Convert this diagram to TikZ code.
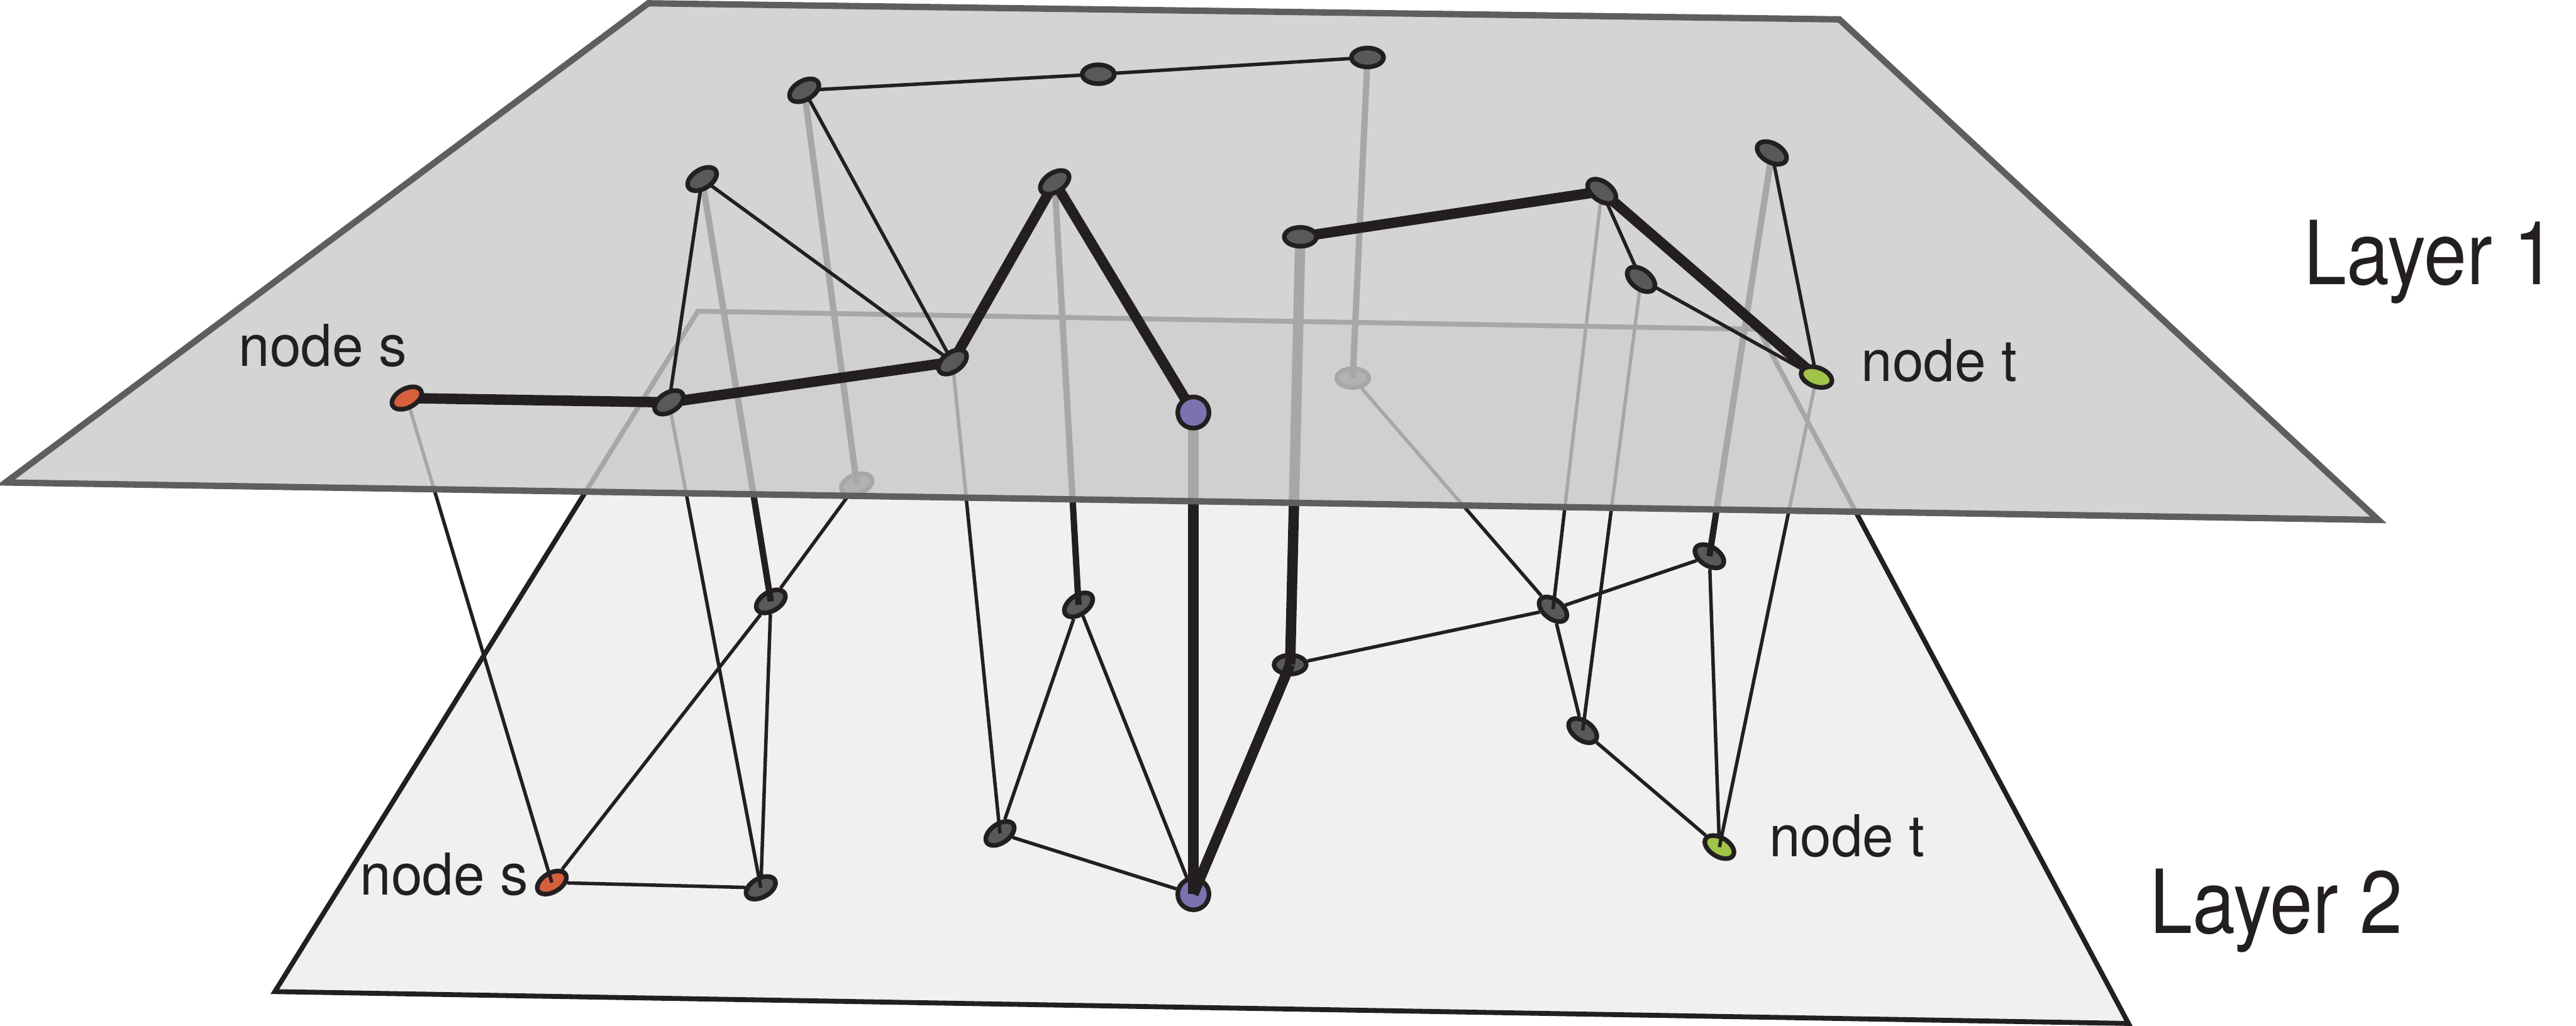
\documentclass[tikz,border=0pt]{standalone}
\usepackage{fontspec}
\setmainfont{TeX Gyre Heros}[FakeStretch=0.97]
\newfontfamily\layerfont{TeX Gyre Heros}[FakeStretch=0.87]
\usetikzlibrary{shapes.geometric}
\definecolor{lineBlack}{RGB}{35,31,32}
\definecolor{nodeGray}{RGB}{88,89,91}
\definecolor{sOrange}{RGB}{214,96,62}
\definecolor{tGreen}{RGB}{160,196,72}
\definecolor{midPurple}{RGB}{123,115,176}
\definecolor{topPlane}{RGB}{201,201,201}
\definecolor{topEdge}{RGB}{94,94,94}
\definecolor{lowPlane}{RGB}{240,240,240}
\pgfdeclarelayer{lower}
\pgfdeclarelayer{upper}
\pgfsetlayers{lower,upper,main}
\tikzset{
  vtx/.style={ellipse, draw=lineBlack, line width=0.8pt, fill=nodeGray,
              minimum width=1.95mm, minimum height=1.15mm, inner sep=0pt},
  snode/.style={vtx, fill=sOrange},
  tnode/.style={vtx, fill=tGreen},
  pnode/.style={vtx, circle, fill=midPurple, minimum size=1.9mm},
  lnk/.style={draw=lineBlack, line width=0.6pt},
  midlnk/.style={lnk, line width=1.1pt},
  route/.style={lnk, line width=1.8pt, line join=round},
  planeone/.style={fill=topPlane, fill opacity=0.8, draw=topEdge, line width=1.1pt},
  planetwo/.style={fill=lowPlane, draw=lineBlack, line width=0.85pt},
  lbl/.style={anchor=base west, inner sep=0pt, text=lineBlack, font=\fontsize{10}{12}\selectfont},
  layerlbl/.style={lbl, font=\layerfont\fontsize{15.3}{18}\selectfont}
}
\begin{document}
\begin{tikzpicture}[x=0.01cm, y=-0.01cm]
\useasboundingbox (0,0) rectangle (1568,624.6);
% layer 1 vertices
\node[snode, rotate=28] (s1) at (247.6,242.4) {};
\node[vtx, rotate=33] (e1) at (407.2,245.0) {};
\node[vtx, rotate=32] (b1) at (427.4,109.0) {};
\node[vtx, rotate=30] (a1) at (489.5,55.0) {};
\node[vtx] (a2) at (668.5,45.2) {};
\node[vtx] (a3) at (832.4,35.0) {};
\node[vtx, rotate=33] (c1) at (642.0,111.0) {};
\node[vtx, rotate=36] (d1) at (579.8,220.4) {};
\node[pnode] (p1) at (726.4,251.2) {};
\node[vtx] (f1) at (791.5,144.2) {};
\node[vtx, rotate=-36] (g1) at (975.0,116.5) {};
\node[vtx, rotate=-38] (h1) at (998.9,170.1) {};
\node[vtx, rotate=-29] (i1) at (1078.5,93.1) {};
\node[tnode, rotate=-20] (t1) at (1105.7,229.6) {};

\begin{pgfonlayer}{lower}
\draw[planetwo] (424.8,189.5) -- (1070.4,200.5) -- (1295.6,623.2) -- (167.3,603.8) -- cycle;
% layer 2 vertices
\node[vtx, rotate=20] (m1) at (521.5,294.8) {};
\node[vtx] (m2) at (823.4,230.2) {};
\node[vtx, rotate=31] (l1) at (469.2,366.2) {};
\node[snode, rotate=31] (s2) at (335.9,537.4) {};
\node[vtx, rotate=29] (l7) at (463.1,540.6) {};
\node[vtx, rotate=35] (l8) at (608.7,507.5) {};
\node[vtx, rotate=35] (l2) at (656.5,368.3) {};
\node[pnode] (p2) at (726.4,544.5) {};
\node[vtx] (l3) at (785.3,404.7) {};
\node[vtx, rotate=-38] (l4) at (945.3,371.0) {};
\node[vtx, rotate=-32] (l5) at (1040.5,338.7) {};
\node[vtx, rotate=-36] (l6) at (963.4,444.9) {};
\node[tnode, rotate=-31] (t2) at (1046.6,515.8) {};
\draw[lnk] (s2) -- (l7);
\draw[lnk] (m1) -- (l1);
\draw[lnk] (l1) -- (s2);
\draw[lnk] (l1) -- (l7);
\draw[lnk] (l2) -- (l8);
\draw[lnk] (l2) -- (p2);
\draw[lnk] (l8) -- (p2);
\draw[lnk] (l3) -- (l4);
\draw[lnk] (m2) -- (l4);
\draw[lnk] (l4) -- (l5);
\draw[lnk] (l4) -- (l6);
\draw[lnk] (l6) -- (t2);
\draw[lnk] (l5) -- (t2);
\draw[route] (l3.center) -- (p2.center);
% links between the layers
\draw[lnk] (s1.center) -- (s2.center);
\draw[lnk] (e1.center) -- (l7.center);
\draw[midlnk] (b1.center) -- (l1.center);
\draw[midlnk] (a1.center) -- (m1.center);
\draw[lnk] (d1.center) -- (l8.center);
\draw[midlnk] (c1.center) -- (l2.center);
\draw[route] (p1.center) -- (p2.center);
\draw[route] (f1.center) -- (l3.center);
\draw[midlnk] (a3.center) -- (m2.center);
\draw[lnk] (g1.center) -- (l4.center);
\draw[lnk] (h1.center) -- (l6.center);
\draw[midlnk] (i1.center) -- (l5.center);
\draw[lnk] (t1.center) -- (t2.center);
\end{pgfonlayer}

\begin{pgfonlayer}{upper}
\draw[planeone] (394.6,2.0) -- (1119.6,11.8) -- (1447.7,316.6) -- (3.4,293.8) -- cycle;
\draw[lnk] (a1.center) -- (a2.center) -- (a3.center);
\draw[lnk] (a1.center) -- (d1.center);
\draw[lnk] (b1.center) -- (d1.center);
\draw[lnk] (b1.center) -- (e1.center);
\draw[lnk] (g1.center) -- (h1.center) -- (t1.center);
\draw[lnk] (i1.center) -- (t1.center);
\draw[route] (s1.center) -- (e1.center) -- (d1.center) -- (c1.center) -- (p1.center);
\draw[route] (f1.center) -- (g1.center) -- (t1.center);
\end{pgfonlayer}

\node[lbl] (lbls1) at (144.6,223.1) {node s};
\node[lbl] (lblt1) at (1132.3,232.1) {node t};
\node[lbl] (lbls2) at (218.5,545.0) {node s};
\node[lbl] (lblt2) at (1076.2,521.5) {node t};
\node[layerlbl] (layer1) at (1401.6,173.2) {Layer 1};
\node[layerlbl] (layer2) at (1308.0,568.4) {Layer 2};
\end{tikzpicture}
\end{document}
